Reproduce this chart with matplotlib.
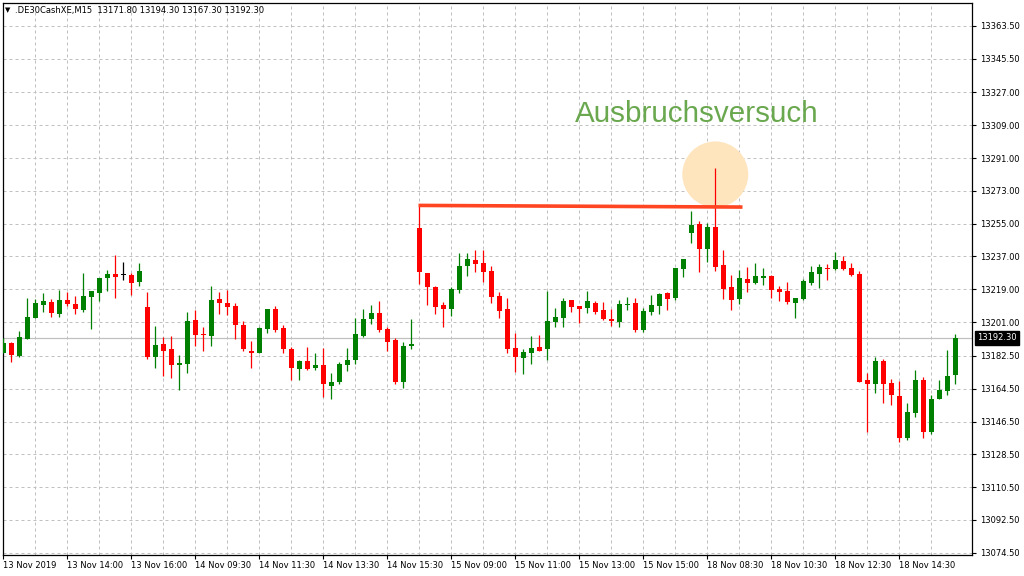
import numpy as np
import matplotlib.pyplot as plt
from matplotlib.patches import Ellipse
from matplotlib.transforms import blended_transform_factory

symbol = '.DE30CashXE,M15'
opens = [
    13184.1, 13189.6, 13182.5, 13192.0, 13203.5, 13210.4, 13212.1, 13205.7, 13213.2, 13210.8,
    13207.9, 13215.0, 13217.2, 13225.4, 13227.4, 13226.7, 13226.9, 13223.2, 13209.3, 13182.1,
    13189.1, 13186.3, 13177.7, 13178.3, 13202.2, 13194.7, 13193.6, 13213.7, 13211.5, 13209.9,
    13199.5, 13185.2, 13183.8, 13197.5, 13208.2, 13197.8, 13186.3, 13175.5, 13179.7, 13176.1,
    13177.5, 13166.2, 13168.4, 13177.7, 13180.5, 13193.6, 13202.9, 13206.0, 13197.3, 13191.2,
    13168.4, 13188.1, 13252.6, 13227.9, 13220.3, 13210.4, 13208.4, 13218.8, 13232.0, 13235.1,
    13233.4, 13229.0, 13215.3, 13208.2, 13186.9, 13181.6, 13184.3, 13187.4, 13186.5, 13201.3,
    13203.5, 13213.2, 13209.9, 13209.0, 13211.5, 13207.7, 13202.7, 13201.3, 13210.6, 13211.5,
    13196.9, 13206.8, 13210.1, 13217.0, 13214.4, 13230.3, 13249.9, 13254.8, 13241.3, 13253.1,
    13232.3, 13220.3, 13213.9, 13224.7, 13222.7, 13225.4, 13226.3, 13219.2, 13218.1, 13211.7,
    13213.9, 13222.7, 13227.6, 13230.7, 13230.3, 13234.5, 13230.7, 13227.4, 13169.3, 13167.3,
    13179.7, 13167.7, 13160.6, 13137.7, 13150.9, 13169.3, 13141.0, 13158.6, 13163.5, 13171.8,
]
highs = [
    13192.2, 13190.1, 13196.2, 13214.3, 13213.7, 13217.0, 13213.7, 13218.8, 13217.7, 13215.3,
    13227.9, 13218.1, 13225.2, 13229.6, 13237.8, 13234.0, 13227.9, 13233.4, 13217.5, 13198.9,
    13192.7, 13193.4, 13182.7, 13206.6, 13207.9, 13198.4, 13220.8, 13217.5, 13218.6, 13211.5,
    13201.7, 13190.7, 13198.4, 13208.2, 13209.9, 13199.5, 13187.4, 13180.3, 13187.4, 13184.1,
    13186.9, 13173.2, 13179.2, 13186.9, 13203.3, 13208.2, 13210.4, 13212.6, 13198.4, 13192.3,
    13190.1, 13202.7, 13264.6, 13227.9, 13220.8, 13212.1, 13220.3, 13238.9, 13238.9, 13240.5,
    13240.5, 13231.8, 13217.5, 13214.3, 13195.1, 13186.3, 13193.4, 13194.0, 13218.1, 13208.8,
    13214.3, 13213.2, 13209.9, 13218.1, 13212.6, 13212.1, 13208.2, 13213.2, 13214.8, 13214.3,
    13208.8, 13215.9, 13217.0, 13217.5, 13230.7, 13235.6, 13261.9, 13256.4, 13255.3, 13285.5,
    13240.5, 13226.9, 13229.6, 13231.2, 13233.4, 13230.7, 13226.9, 13220.8, 13223.0, 13214.3,
    13224.7, 13231.8, 13232.9, 13232.9, 13239.5, 13237.3, 13233.4, 13229.0, 13173.2, 13181.9,
    13180.8, 13169.9, 13168.8, 13156.7, 13174.8, 13171.0, 13161.1, 13169.3, 13185.8, 13194.3,
]
lows = [
    13183.8, 13179.4, 13181.9, 13192.0, 13203.5, 13206.8, 13204.0, 13204.0, 13210.1, 13205.7,
    13206.8, 13197.5, 13212.8, 13218.3, 13214.4, 13224.3, 13216.1, 13221.0, 13181.0, 13176.1,
    13171.7, 13170.1, 13164.0, 13173.3, 13187.9, 13185.4, 13188.1, 13205.7, 13205.1, 13192.0,
    13185.4, 13176.1, 13183.8, 13195.3, 13195.8, 13183.8, 13169.5, 13169.5, 13175.0, 13175.0,
    13159.7, 13159.1, 13166.8, 13174.4, 13178.3, 13193.1, 13200.2, 13195.8, 13185.4, 13166.8,
    13165.1, 13186.0, 13222.1, 13210.6, 13205.7, 13198.5, 13204.4, 13217.2, 13226.5, 13228.7,
    13223.2, 13211.7, 13203.5, 13184.3, 13173.9, 13172.3, 13178.3, 13184.9, 13180.5, 13198.5,
    13198.5, 13206.8, 13200.6, 13206.2, 13205.7, 13202.4, 13199.1, 13198.5, 13207.9, 13195.8,
    13195.8, 13205.1, 13205.7, 13207.9, 13213.3, 13225.9, 13244.4, 13228.7, 13234.2, 13229.2,
    13213.9, 13207.9, 13211.2, 13217.7, 13222.1, 13221.6, 13214.4, 13212.8, 13211.2, 13203.5,
    13213.3, 13221.6, 13219.9, 13224.3, 13229.8, 13229.8, 13226.5, 13167.9, 13141.0, 13162.4,
    13156.9, 13155.8, 13135.0, 13136.3, 13149.2, 13137.7, 13139.9, 13158.6, 13160.8, 13167.3,
]
closes = [
    13189.6, 13183.0, 13192.9, 13203.8, 13211.5, 13212.6, 13206.2, 13213.2, 13211.2, 13208.4,
    13215.3, 13218.1, 13225.2, 13227.4, 13225.9, 13226.7, 13222.7, 13229.0, 13182.1, 13188.5,
    13185.4, 13177.7, 13178.6, 13201.7, 13194.2, 13194.0, 13213.2, 13211.7, 13209.5, 13199.6,
    13186.0, 13184.3, 13197.8, 13208.2, 13196.9, 13186.0, 13176.1, 13179.7, 13175.5, 13177.5,
    13166.8, 13168.2, 13178.1, 13180.3, 13194.5, 13202.7, 13206.0, 13196.9, 13190.3, 13167.9,
    13187.9, 13189.1, 13228.7, 13220.5, 13209.5, 13208.4, 13219.2, 13231.8, 13235.6, 13233.1,
    13228.7, 13215.0, 13207.3, 13186.5, 13182.1, 13184.7, 13186.9, 13184.9, 13201.7, 13203.8,
    13212.6, 13209.5, 13208.4, 13212.6, 13206.8, 13202.9, 13201.8, 13211.0, 13211.0, 13196.9,
    13207.1, 13210.4, 13216.4, 13213.9, 13230.7, 13235.6, 13254.2, 13241.3, 13253.1, 13231.4,
    13219.4, 13213.3, 13225.2, 13222.7, 13226.3, 13226.3, 13218.8, 13217.7, 13212.2, 13214.3,
    13223.6, 13228.5, 13231.2, 13230.3, 13235.1, 13230.3, 13227.0, 13168.4, 13167.3, 13179.7,
    13166.8, 13160.8, 13137.7, 13151.8, 13169.3, 13141.0, 13158.9, 13163.9, 13171.5, 13192.3,
]

y_ticks = [13074.5, 13092.5, 13110.5, 13128.5, 13146.5, 13164.5, 13182.5, 13201.0, 13219.0,
           13237.0, 13255.0, 13273.0, 13291.0, 13309.0, 13327.0, 13345.5, 13363.5]
y_labels = ['13074.50', '13092.50', '13110.50', '13128.50', '13146.50', '13164.50', '13182.50',
            '13201.00', '13219.00', '13237.00', '13255.00', '13273.00', '13291.00', '13309.00',
            '13327.00', '13345.50', '13363.50']
x_ticks = [0, 8, 16, 24, 32, 40, 48, 56, 64, 72, 80, 88, 96, 104, 112]
x_labels = ['13 Nov 2019', '13 Nov 14:00', '13 Nov 16:00', '14 Nov 09:30', '14 Nov 11:30',
            '14 Nov 13:30', '14 Nov 15:30', '15 Nov 09:00', '15 Nov 11:00', '15 Nov 13:00',
            '15 Nov 15:00', '18 Nov 08:30', '18 Nov 10:30', '18 Nov 12:30', '18 Nov 14:30']

# Widerstandslinie, Kreis, Beschriftung
line_x = [51.9, 92.4]
line_y = [13265.0, 13264.1]
circle_x, circle_y, circle_px = 89.0, 13282.0, 66
note = 'Ausbruchsversuch'
note_x, note_y = 71.5, 13310.8

o = np.array(opens); h = np.array(highs); l = np.array(lows); c = np.array(closes)
idx = np.arange(len(o))
green, red = '#008000', '#ff0000'
cols = np.where(c > o, green, np.where(c < o, red, 'black'))

fig = plt.figure(figsize=(10.24, 5.76), dpi=100)
ax = fig.add_axes([3 / 1024, 21 / 576, 969 / 1024, 552 / 576])
ax.set_xlim(-0.04, 121.09)
ax.set_ylim(13073.3, 13376.0)
ax.set_axisbelow(True)

# Gitter
ax.set_yticks(y_ticks)
ax.set_yticklabels(y_labels)
ax.set_xticks(x_ticks)
ax.set_xticklabels(x_labels)
ax.set_xticks(np.arange(4, 121, 8), minor=True)
ax.grid(True, which='both', color='#c0c0c0', linestyle=(0, (3, 3)), linewidth=0.72)
ax.axhline(closes[-1], color='#c0c0c0', linewidth=0.9, zorder=1)

# Kerzen
ax.vlines(idx, l, h, colors=cols, linewidth=0.9, zorder=3)
body = np.maximum(np.abs(c - o), 0.6)
ax.bar(idx, body, bottom=np.minimum(o, c), width=0.63, color=cols, linewidth=0, zorder=4)

# Markierungen
xr = ax.get_xlim(); yr = ax.get_ylim()
ew = circle_px * (xr[1] - xr[0]) / 969
eh = circle_px * (yr[1] - yr[0]) / 552
ax.add_patch(Ellipse((circle_x, circle_y), ew, eh, facecolor='#ffe5be', edgecolor='none', zorder=2))
ax.plot(line_x, line_y, color='#ff4522', linewidth=2.6, solid_capstyle='butt', zorder=5)
ax.text(note_x, note_y, note, family='Liberation Sans', fontsize=21.3, color='#6aa84f',
        va='baseline', ha='left', zorder=6)

# Achsen
for s in ax.spines.values():
    s.set_color('black')
    s.set_linewidth(0.9)
ax.yaxis.tick_right()
ax.tick_params(axis='y', which='both', direction='out', length=3, width=0.8, pad=2.5,
               labelsize=6, left=False, right=True)
ax.tick_params(axis='x', which='major', direction='out', length=3, width=0.8, pad=1.5, labelsize=6)
ax.tick_params(axis='x', which='minor', length=0)
for lab in ax.get_xticklabels():
    lab.set_horizontalalignment('left')
for lab in ax.get_xticklabels() + ax.get_yticklabels():
    lab.set_family('DejaVu Sans')

trans = blended_transform_factory(ax.transAxes, ax.transData)
ax.text(1 + 5 / 969, closes[-1], f'{closes[-1]:.2f}', transform=trans, ha='left', va='center',
        fontsize=6, color='white', family='DejaVu Sans',
        bbox=dict(facecolor='black', edgecolor='black', boxstyle='square,pad=0.25'))

# Kopfzeile
fig.text(5 / 1024, 1 - 10 / 576, '▼', fontsize=5, va='center', family='DejaVu Sans')
fig.text(15 / 1024, 1 - 10 / 576,
         f'{symbol}  {opens[-1]:.2f} {highs[-1]:.2f} {lows[-1]:.2f} {closes[-1]:.2f}',
         fontsize=6, va='center', family='DejaVu Sans')

fig.savefig('out.png', dpi=100, facecolor='white')
